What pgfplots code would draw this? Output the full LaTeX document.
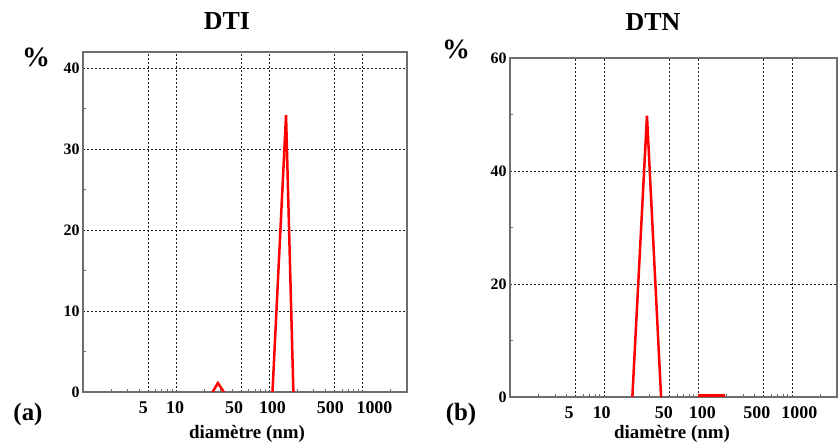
\documentclass[border=0pt]{standalone}
\usepackage{fontspec}
\setmainfont{Liberation Serif}
\usepackage{pgfplots}
\pgfplotsset{compat=1.18}
\definecolor{axgray}{HTML}{6E6E6E}
\begin{document}
\begin{tikzpicture}
\useasboundingbox (0bp,0bp) rectangle (840bp,446bp);

% ---- (a) DTI ----
\begin{semilogxaxis}[scale only axis, anchor=south west,
  at={(83bp,54bp)}, width=324bp, height=340bp,
  xmin=1, xmax=3000, ymin=0, ymax=42,
  xtick={5,10,50,100,500,1000},
  xticklabels={,,,,,},
  extra x ticks={4.45,9.75,41.9,108,451,1343},
  extra x tick labels={5,10,50,100,500,1000},
  extra x tick style={grid=none, major tick length=0pt, tick style={draw=none}},
  minor xtick={2,3,4,6,7,8,9,20,30,40,60,70,80,90,200,300,400,600,700,800,900,2000},
  ytick={0,10,20,30,40}, yticklabels={0,10,20,30,40},
  minor ytick={5,15,25,35},
  xtick pos=bottom, ytick pos=left,
  grid=major,
  major grid style={black!90, line width=0.7bp, dash pattern=on 2bp off 2bp},
  axis line style={axgray, line width=1.3bp},
  tick style={axgray, line width=0.7bp},
  tick align=inside,
  major tick length=0pt,
  minor tick length=3bp,
  yticklabel style={font=\bfseries\fontsize{16}{16}\selectfont},
  xticklabel style={font=\bfseries\fontsize{18}{18}\selectfont, yshift=-6bp}]
\addplot[color=red, line width=2.5bp, line join=miter] coordinates {(24.6,0) (28,1.1) (32.5,0)};
\addplot[color=red, line width=2.5bp, line join=miter] coordinates {(108,0) (151,34.2) (181,0)};
\end{semilogxaxis}

% ---- (b) DTN ----
\begin{semilogxaxis}[scale only axis, anchor=south west,
  at={(510bp,49bp)}, width=327bp, height=339bp,
  xmin=1, xmax=3000, ymin=0, ymax=60,
  xtick={5,10,50,100,500,1000},
  xticklabels={,,,,,},
  extra x ticks={4.26,9.45,43.2,111,421,1194},
  extra x tick labels={5,10,50,100,500,1000},
  extra x tick style={grid=none, major tick length=0pt, tick style={draw=none}},
  minor xtick={2,3,4,6,7,8,9,20,30,40,60,70,80,90,200,300,400,600,700,800,900,2000},
  ytick={0,20,40,60}, yticklabels={0,20,40,60},
  minor ytick={10,30,50},
  xtick pos=bottom, ytick pos=left,
  grid=major,
  major grid style={black!90, line width=0.7bp, dash pattern=on 2bp off 2bp},
  axis line style={axgray, line width=1.3bp},
  tick style={axgray, line width=0.7bp},
  tick align=inside,
  major tick length=0pt,
  minor tick length=3bp,
  yticklabel style={font=\bfseries\fontsize{16}{16}\selectfont},
  xticklabel style={font=\bfseries\fontsize{18}{18}\selectfont, yshift=-6bp}]
\addplot[color=red, line width=2.5bp, line join=miter] coordinates {(20,0) (28.6,49.8) (40.4,0)};
\addplot[color=red, line width=2.5bp, line join=miter] coordinates {(100,0.3) (194,0.3)};
\end{semilogxaxis}

\node[font=\bfseries\fontsize{26}{26}\selectfont] at (227bp,425bp) {DTI};
\node[font=\bfseries\fontsize{26}{26}\selectfont] at (653bp,424bp) {DTN};
\node[font=\bfseries\fontsize{28}{28}\selectfont] at (36bp,389bp) {\%};
\node[font=\bfseries\fontsize{28}{28}\selectfont] at (456bp,397bp) {\%};
\node[font=\bfseries\fontsize{25}{25}\selectfont] at (28bp,31bp) {(a)};
\node[font=\bfseries\fontsize{25}{25}\selectfont] at (461bp,31bp) {(b)};
\node[font=\bfseries\fontsize{19}{19}\selectfont] at (247bp,12bp) {diamètre (nm)};
\node[font=\bfseries\fontsize{19}{19}\selectfont] at (672bp,12bp) {diamètre (nm)};
\end{tikzpicture}
\end{document}
